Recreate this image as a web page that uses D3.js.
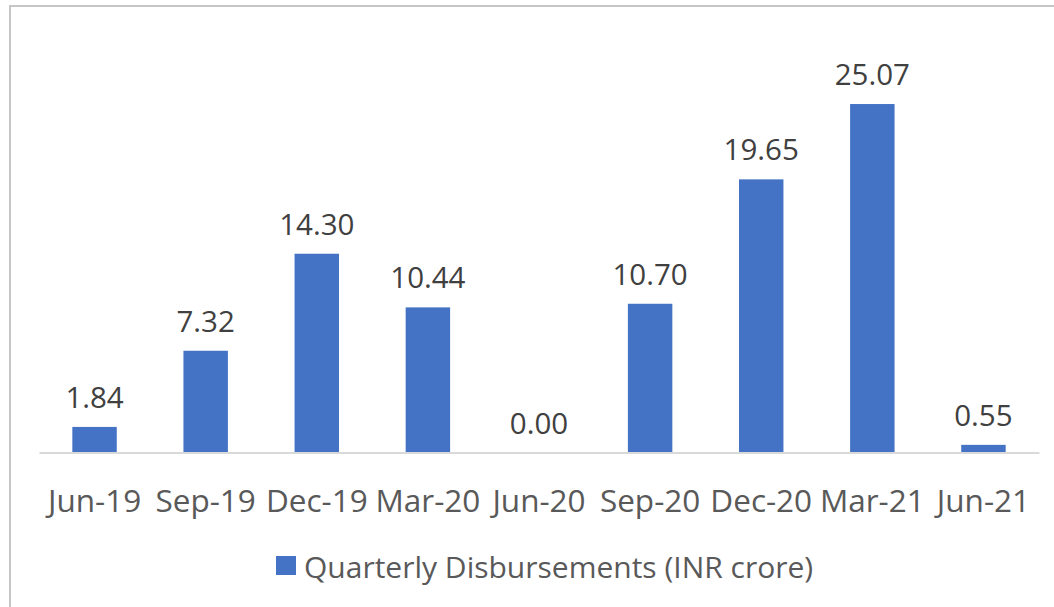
<!DOCTYPE html>
<html>
<head>
<meta charset="utf-8">
<script src="https://cdn.jsdelivr.net/npm/d3@7"></script>
<style>
  body { margin: 0; background: #fff; }
  text { font-family: "Open Sans", "Noto Sans", sans-serif; }
</style>
</head>
<body>
<div id="chart"></div>
<script>
// data
const quarters = ["Jun-19", "Sep-19", "Dec-19", "Mar-20", "Jun-20", "Sep-20", "Dec-20", "Mar-21", "Jun-21"];
const disbursements = [1.84, 7.32, 14.30, 10.44, 0.00, 10.70, 19.65, 25.07, 0.55];
const seriesName = "Quarterly Disbursements (INR crore)";

const W = 1054, H = 607;
const barColor = "#4472C4";

var svg = d3.select("#chart")
    .append("svg")
    .attr("width", W)
    .attr("height", H)

// chart frame (right and bottom edges fall outside the picture)
svg.append("rect")
    .attr("x", 10).attr("y", 6)
    .attr("width", W + 20).attr("height", H + 20)
    .attr("fill", "none")
    .attr("stroke", "#c6c6c6")
    .attr("stroke-width", 2)

let x = d3.scaleBand()
    .domain(quarters)
    .range([39, 1039])
    .paddingInner(0.6)
    .paddingOuter(0.3)

let y = d3.scaleLinear()
    .domain([0, 30])
    .range([452.5, 35.5])

//bars
svg.append("g")
    .selectAll("rect")
    .data(disbursements)
    .join("rect")
    .attr("x", (d, i) => x(quarters[i]))
    .attr("width", x.bandwidth())
    .attr("y", d => y(d))
    .attr("height", d => y(0) - y(d))
    .attr("fill", barColor)

//value labels
svg.append("g")
    .selectAll("text")
    .data(disbursements)
    .join("text")
    .attr("x", (d, i) => x(quarters[i]) + x.bandwidth() / 2)
    .attr("y", d => y(d) - 19)
    .attr("text-anchor", "middle")
    .attr("font-size", 29.5)
    .attr("fill", "#404040")
    .text(d => d.toFixed(2))

//x axis
let xAxis = svg.append("g")
    .attr("transform", `translate(0, ${y(0)})`)
    .call(d3.axisBottom(x).tickSize(0).tickPadding(0))

xAxis.select(".domain")
    .attr("stroke", "#d9d9d9")
    .attr("stroke-width", 2)

xAxis.selectAll("text")
    .attr("font-size", 31.5)
    .attr("fill", "#595959")
    .attr("dy", null)
    .attr("y", 59)

//legend
let legend = svg.append("g").attr("transform", "translate(276, 556)")
legend.append("rect")
    .attr("width", 20).attr("height", 19)
    .attr("fill", barColor)
legend.append("text")
    .attr("x", 28).attr("y", 22)
    .attr("font-size", 30)
    .attr("fill", "#595959")
    .text(seriesName)
</script>
</body>
</html>
